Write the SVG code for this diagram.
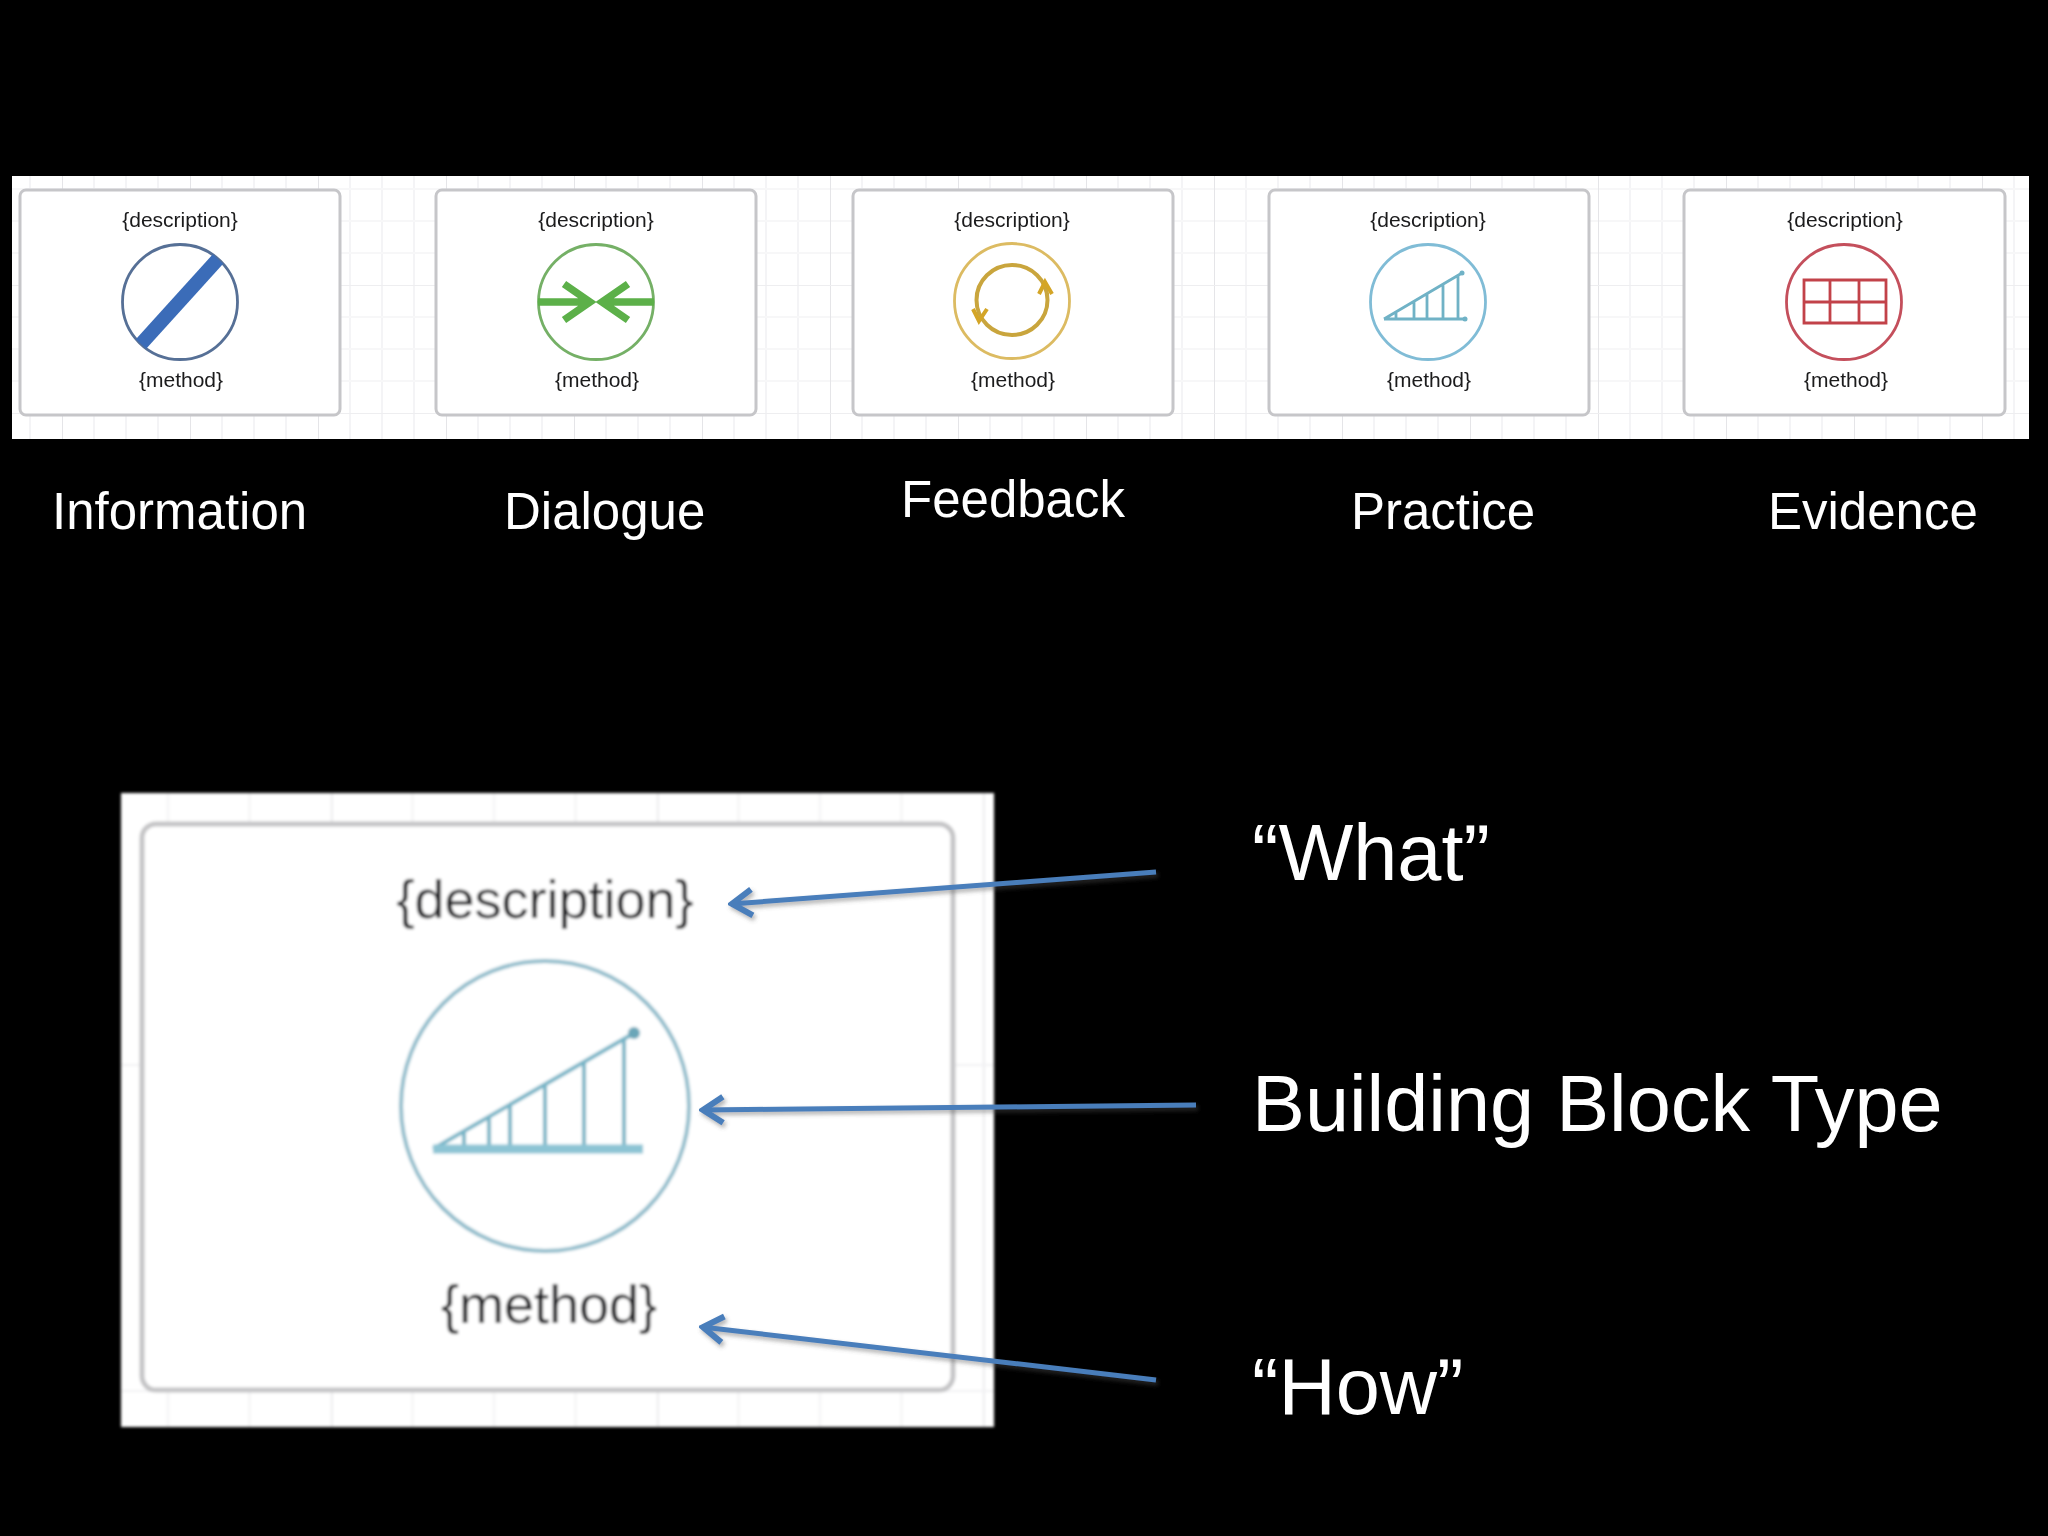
<svg xmlns="http://www.w3.org/2000/svg" width="2048" height="1536" viewBox="0 0 2048 1536">
<defs>
<style>
.card{fill:#fff;stroke:#c6c6c9;stroke-width:3}
.cap{font-family:"Liberation Sans",Arial,sans-serif;font-size:21px;fill:#1a1a1c;text-anchor:middle}
.capb{font-family:"Liberation Sans",Arial,sans-serif;fill:#1e1e20;text-anchor:middle}
.lab{font-family:"Liberation Sans",Arial,sans-serif;font-size:51px;fill:#fff}
.big{font-family:"Liberation Sans",Arial,sans-serif;font-size:79.300px;fill:#fff}
.ring{fill:#fff;stroke-width:2.800}
.arrow{fill:none;stroke:#4a7ebb;stroke-width:5;marker-start:url(#head)}
</style>
<pattern id="gridS" patternUnits="userSpaceOnUse" x="62" y="29" width="128" height="128">
<path d="M0 0V128M32 0V128M64 0V128M96 0V128" stroke="#f1f1f3" stroke-width="1.500" fill="none"/>
<path d="M0 32H128M0 64H128M0 96H128" stroke="#f7f7f8" stroke-width="2" fill="none"/>
<path d="M0 0V128" stroke="#e0e0e3" stroke-width="1.500" fill="none"/>
<path d="M0 0H128" stroke="#eeeef0" stroke-width="2" fill="none"/>
</pattern>
<pattern id="gridB" patternUnits="userSpaceOnUse" x="331" y="738" width="326" height="326">
<path d="M0 0V326M81.500 0V326M163 0V326M244.500 0V326" stroke="#f6f6f7" stroke-width="3" fill="none"/>
<path d="M0 0V326" stroke="#e6e6e8" stroke-width="3" fill="none"/>
<path d="M0 0H326" stroke="#f1f1f3" stroke-width="4" fill="none"/>
</pattern>
<filter id="soft" x="-5%" y="-5%" width="110%" height="110%"><feGaussianBlur stdDeviation="0.5"/></filter>
<filter id="softB" x="-5%" y="-5%" width="110%" height="110%"><feGaussianBlur stdDeviation="1.600"/></filter>
<filter id="shade" x="-10%" y="-50%" width="120%" height="200%"><feDropShadow dx="2" dy="3" stdDeviation="2" flood-color="#555" flood-opacity="0.45"/></filter>
<marker id="head" markerUnits="userSpaceOnUse" markerWidth="44" markerHeight="44" refX="3" refY="22" orient="auto" viewBox="0 0 44 44">
<path d="M24 9L4 22L24 35" fill="none" stroke="#4a7ebb" stroke-width="6"/>
</marker>
</defs>
<rect width="2048" height="1536" fill="#000"/>
<g id="strip" filter="url(#soft)">
<rect x="12" y="176" width="2017" height="263" fill="#fff"/>
<rect x="12" y="176" width="2017" height="263" fill="url(#gridS)"/>
</g>
<g id="information" filter="url(#soft)">
<rect class="card" x="20" y="190" width="320" height="225" rx="6"/>
<text class="cap" x="180" y="227">{description}</text>
<circle class="ring" cx="180" cy="302" r="57.500" stroke="#566f96"/>
<path d="M218 259L141 344" stroke="#3a6cb8" stroke-width="14" fill="none"/>
<text class="cap" x="181" y="387">{method}</text>
</g>
<g id="dialogue" filter="url(#soft)">
<rect class="card" x="436" y="190" width="320" height="225" rx="6"/>
<text class="cap" x="596" y="227">{description}</text>
<circle class="ring" cx="596" cy="302" r="57.500" stroke="#74b066"/>
<path d="M538 302H587M654 302H605M564 284L590 302L564 320M628 284L602 302L628 320" stroke="#5cb04a" stroke-width="7.500" fill="none"/>
<text class="cap" x="597" y="387">{method}</text>
</g>
<g id="feedback" filter="url(#soft)">
<rect class="card" x="853" y="190" width="320" height="225" rx="6"/>
<text class="cap" x="1012" y="227">{description}</text>
<circle class="ring" cx="1012" cy="301" r="57.500" stroke="#dcbb62"/>
<ellipse cx="1012" cy="300" rx="35.500" ry="35" fill="none" stroke="#c9a53c" stroke-width="4"/>
<path d="M1039 294L1045 282L1052 294M973 309L979 321L987 309" fill="none" stroke="#d4a526" stroke-width="4"/>
<text class="cap" x="1013" y="387">{method}</text>
</g>
<g id="practice" filter="url(#soft)">
<rect class="card" x="1269" y="190" width="320" height="225" rx="6"/>
<text class="cap" x="1428" y="227">{description}</text>
<circle class="ring" cx="1428" cy="302" r="57.500" stroke="#80bcd6"/>
<path d="M1384 319H1465M1384 319L1462 273M1396 312V319M1414 302V319M1427 294V319M1443 284V319M1458 275V319" fill="none" stroke="#6fb2c6" stroke-width="2.800"/>
<circle cx="1462" cy="273" r="2.500" fill="#6fb2c6"/>
<circle cx="1465" cy="319" r="2.500" fill="#6fb2c6"/>
<text class="cap" x="1429" y="387">{method}</text>
</g>
<g id="evidence" filter="url(#soft)">
<rect class="card" x="1684" y="190" width="321" height="225" rx="6"/>
<text class="cap" x="1845" y="227">{description}</text>
<circle class="ring" cx="1844" cy="302" r="57.500" stroke="#c4505c"/>
<path d="M1804 280H1886V323H1804ZM1804 302H1886M1830 280V323M1859 280V323" fill="none" stroke="#c2424a" stroke-width="2.800"/>
<text class="cap" x="1846" y="387">{method}</text>
</g>
<g id="labels">
<text class="lab" x="52" y="529">Information</text>
<text class="lab" x="504" y="529">Dialogue</text>
<text class="lab" x="901" y="517">Feedback</text>
<text class="lab" x="1351" y="529">Practice</text>
<text class="lab" x="1768" y="529">Evidence</text>
</g>
<g id="detail" filter="url(#softB)">
<rect x="121" y="793" width="873" height="634" fill="#fff"/>
<rect x="121" y="793" width="873" height="634" fill="url(#gridB)"/>
<rect x="142" y="824" width="811" height="566" rx="14" fill="#fff" stroke="#c4c4c6" stroke-width="5"/>
<text class="capb" x="545" y="918" font-size="54">{description}</text>
<ellipse cx="545" cy="1106" rx="144" ry="145" fill="#fff" stroke="#8fbccb" stroke-width="4"/>
<path d="M433 1149H643M433 1149L636 1032M464 1130V1149M489 1116V1149M510 1104V1149M545 1084V1149M584 1062V1149M624 1039V1149" fill="none" stroke="#76b4c6" stroke-width="4"/>
<path d="M433 1149H643" stroke="#8cc4d4" stroke-width="9" fill="none"/>
<circle cx="634" cy="1033" r="6" fill="#6aa6b8"/>
<text class="capb" x="549" y="1323" font-size="54">{method}</text>
</g>
<g id="connectors" filter="url(#shade)">
<path class="arrow" d="M731 904L1156 872"/>
<path class="arrow" d="M702 1110L1196 1105"/>
<path class="arrow" d="M702 1327L1156 1380"/>
</g>
<g id="callouts">
<text class="big" x="1252" y="880">“What”</text>
<text class="big" x="1252" y="1131">Building Block Type</text>
<text class="big" x="1252" y="1414">“How”</text>
</g>
</svg>
